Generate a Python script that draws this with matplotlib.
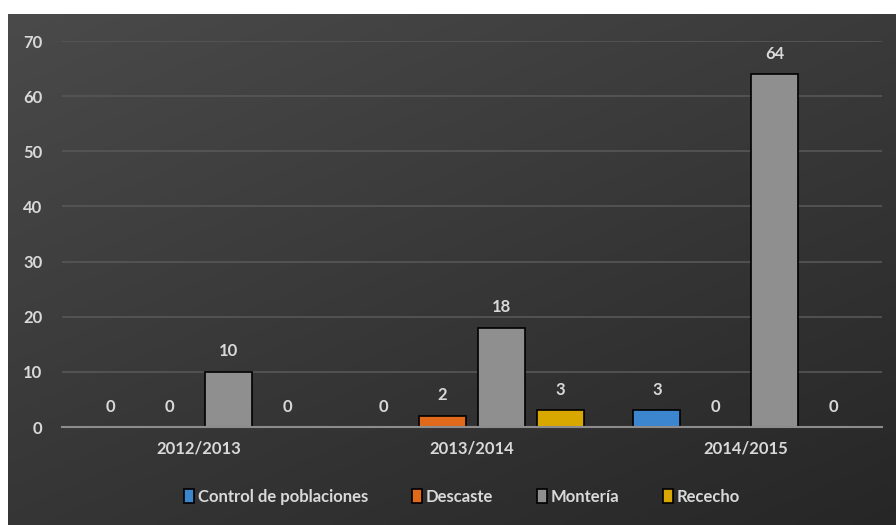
import matplotlib
matplotlib.use("Agg")
import matplotlib.pyplot as plt
import numpy as np

categories = ["2012/2013", "2013/2014", "2014/2015"]
series_names = ["Control de poblaciones", "Descaste", "Montería", "Rececho"]
control = [0, 0, 3]
descaste = [0, 2, 0]
monteria = [10, 18, 64]
rececho = [0, 3, 0]
series_values = [control, descaste, monteria, rececho]
colors = ["#3b86cf", "#e0691c", "#8f8f8f", "#d9a800"]

plt.rcParams['font.family'] = ['Lato', 'DejaVu Sans']
txt = "#d9d9d9"

fig = plt.figure(figsize=(8.96, 5.25), dpi=100)
fig.patch.set_facecolor("white")

# background panel with diagonal gradient
W, H = 896, 525
bg = fig.add_axes([8 / W, 0, 1 - 8 / W, 1 - 14 / H])
bg.set_axis_off()
yy, xx = np.mgrid[0:1:200j, 0:1:300j]
t = (xx * 0.6 + yy * 0.8) / 1.4
grad = 0.29 - 0.14 * t
bg.imshow(np.dstack([grad, grad, grad]), aspect="auto", extent=[0, 1, 0, 1], origin="upper")
bg.set_xlim(0, 1); bg.set_ylim(0, 1)

ax = fig.add_axes([62 / W, 1 - 427 / H, 820 / W, 386 / H])
ax.set_facecolor("none")
ax.set_xlim(-0.5, 2.5)
ax.set_ylim(0, 70)

x = np.arange(len(categories))
width = 0.172
step = 0.216
for i, (name, vals, c) in enumerate(zip(series_names, series_values, colors)):
    pos = x + (i - 1.5) * step
    ax.bar(pos, vals, width, color=c, edgecolor="black", linewidth=1.2, label=name, zorder=3)
    for p, v in zip(pos, vals):
        ax.annotate(str(v), (p, v), xytext=(0, 9), textcoords="offset points",
                    ha="center", va="bottom", color=txt, fontsize=12, fontweight="bold")

ax.set_yticks(range(0, 71, 10))
ax.yaxis.grid(True, color="#575757", linewidth=1.2, zorder=0)
ax.set_axisbelow(True)
for s in ["top", "right", "left"]:
    ax.spines[s].set_visible(False)
ax.spines["bottom"].set_color("#8c8c8c")
ax.spines["bottom"].set_linewidth(1.5)
ax.spines["bottom"].set_zorder(4)
ax.set_xticks(x)
ax.set_xticklabels(categories)
ax.tick_params(axis="both", length=0, colors=txt, labelsize=12)
ax.tick_params(axis="y", pad=14)
ax.tick_params(axis="x", pad=10)
for lab in ax.get_xticklabels() + ax.get_yticklabels():
    lab.set_fontweight("bold")

leg = fig.legend(loc="center", bbox_to_anchor=(462 / W, 1 - 497 / H), ncol=4, frameon=False,
                 handlelength=0.6, handleheight=0.9, handletextpad=0.25, columnspacing=2.6,
                 prop={"size": 12, "weight": "bold"})
for t_ in leg.get_texts():
    t_.set_color(txt)

fig.savefig("out.png", dpi=100, facecolor=fig.get_facecolor())
